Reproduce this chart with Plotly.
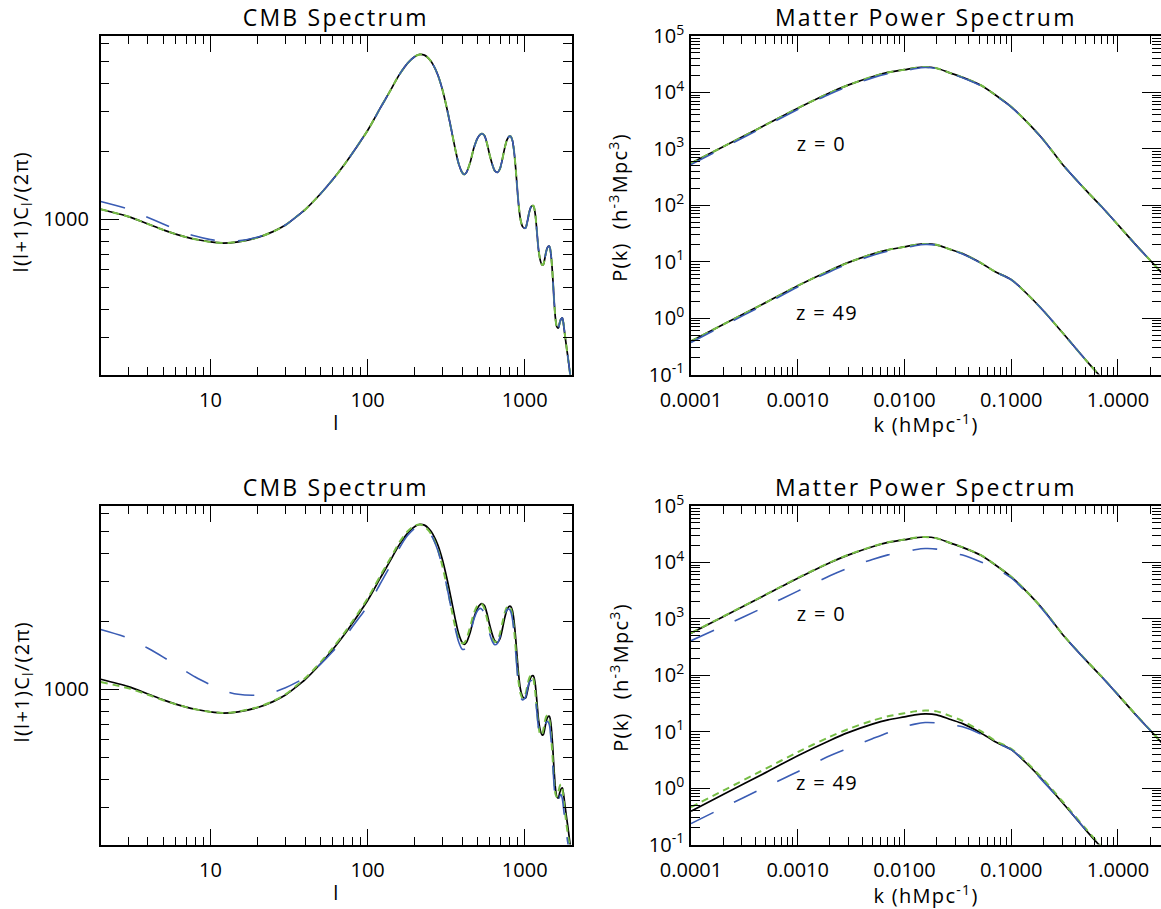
import math
import plotly.graph_objects as go

# ---------------------------------------------------------------
# CMB temperature spectrum  D_l = l(l+1)C_l / (2 pi)
# ---------------------------------------------------------------
ell = [2, 3, 4, 5, 6, 7, 8, 10, 12, 15, 20, 25, 30, 35, 40, 50, 60, 70, 80, 90,
       100, 110, 120, 130, 140, 150, 160, 180, 200, 215, 230, 245, 260, 280, 300,
       320, 340, 360, 380, 400, 412, 425, 450, 475, 500, 520, 537, 555, 575, 600,
       625, 645, 670, 695, 720, 745, 770, 795, 815, 835, 855, 875, 895, 915, 940,
       970, 1000, 1015, 1040, 1070, 1100, 1135, 1165, 1195, 1225, 1260, 1290, 1313,
       1340, 1370, 1400, 1435, 1465, 1500, 1535, 1570, 1600, 1637, 1670, 1700, 1735,
       1760, 1800, 1850, 1900, 1950, 2000]

# reference model (solid black, both rows)
cmb_ref = [1110, 1030, 955, 900, 862, 836, 818, 796, 787, 797, 833, 884, 945, 1025, 1105,
           1295, 1500, 1720, 1960, 2210, 2470, 2770, 3090, 3400, 3720, 4060, 4380, 4900,
           5240, 5350, 5310, 5130, 4850, 4340, 3720, 3080, 2520, 2070, 1760, 1610, 1580,
           1610, 1790, 2070, 2280, 2370, 2390, 2340, 2170, 1910, 1730, 1640, 1612, 1670,
           1840, 2060, 2240, 2325, 2325, 2230, 2010, 1700, 1390, 1160, 1000, 930, 915, 920,
           980, 1080, 1140, 1150, 1065, 890, 735, 655, 630, 632, 668, 722, 755, 762, 715,
           590, 450, 365, 337, 332, 350, 363, 368, 352, 312, 270, 236, 205, 180]

# upper row: comparison runs
cmb_top_blue = [1200, 1112, 1020, 955, 905, 870, 845, 815, 802, 805, 837, 886, 946, 1025, 1105,
                1295, 1500, 1720, 1960, 2210, 2470, 2770, 3090, 3400, 3720, 4060, 4380, 4900,
                5240, 5350, 5310, 5130, 4850, 4340, 3720, 3080, 2520, 2070, 1760, 1610, 1580,
                1610, 1790, 2070, 2280, 2370, 2390, 2340, 2170, 1910, 1730, 1640, 1612, 1670,
                1840, 2060, 2240, 2325, 2325, 2230, 2010, 1700, 1390, 1160, 1000, 930, 915, 920,
                980, 1080, 1140, 1150, 1065, 890, 735, 655, 630, 632, 668, 722, 755, 762, 715,
                590, 450, 365, 337, 332, 350, 363, 368, 352, 312, 270, 236, 205, 180]
cmb_top_green = [1110, 1030, 955, 900, 862, 836, 818, 796, 787, 797, 833, 884, 945, 1025, 1105,
                 1295, 1500, 1720, 1960, 2210, 2470, 2770, 3090, 3400, 3720, 4060, 4380, 4900,
                 5240, 5350, 5310, 5130, 4850, 4340, 3720, 3080, 2520, 2070, 1760, 1610, 1580,
                 1610, 1790, 2070, 2280, 2370, 2390, 2340, 2170, 1910, 1730, 1640, 1612, 1670,
                 1840, 2060, 2240, 2325, 2325, 2230, 2010, 1700, 1390, 1160, 1000, 930, 915, 920,
                 980, 1080, 1140, 1150, 1065, 890, 735, 655, 630, 632, 668, 722, 755, 762, 715,
                 590, 450, 365, 337, 332, 350, 363, 368, 352, 312, 270, 236, 205, 180]

# lower row: comparison runs
cmb_bot_blue = [1840, 1685, 1520, 1390, 1285, 1200, 1135, 1048, 990, 952, 945, 972, 1018, 1072,
                1130, 1290, 1470, 1670, 1890, 2110, 2330, 2610, 2920, 3220, 3530, 3880, 4230,
                4790, 5150, 5280, 5210, 4990, 4660, 4100, 3450, 2830, 2290, 1880, 1620, 1505,
                1505, 1555, 1760, 2040, 2225, 2280, 2250, 2140, 1960, 1750, 1620, 1575, 1595,
                1700, 1890, 2110, 2245, 2265, 2205, 2050, 1790, 1480, 1210, 1020, 925, 900, 912,
                930, 1000, 1075, 1095, 1058, 950, 795, 675, 622, 618, 635, 678, 714, 722, 698,
                620, 495, 385, 322, 307, 318, 338, 344, 330, 306, 266, 228, 201, 180, 165]
cmb_bot_green = [1078, 1012, 948, 897, 861, 836, 818, 796, 788, 799, 836, 888, 952, 1035, 1120,
                 1315, 1525, 1750, 1995, 2250, 2520, 2830, 3160, 3480, 3800, 4150, 4480, 4990,
                 5290, 5350, 5250, 5020, 4700, 4140, 3480, 2840, 2310, 1910, 1680, 1600, 1605,
                 1665, 1890, 2170, 2340, 2390, 2370, 2270, 2060, 1820, 1670, 1620, 1640, 1760,
                 1960, 2170, 2300, 2330, 2280, 2120, 1850, 1530, 1260, 1075, 960, 915, 935, 962,
                 1040, 1125, 1160, 1115, 985, 815, 688, 630, 636, 662, 716, 760, 770, 738, 650,
                 520, 402, 346, 336, 352, 374, 381, 366, 338, 292, 250, 220, 195, 175]

# ---------------------------------------------------------------
# Matter power spectrum P(k) at z = 0 and z = 49
# ---------------------------------------------------------------
k = [1e-4, 2e-4, 5e-4, 1e-3, 2e-3, 3e-3, 5e-3, 7e-3, 0.01, 0.0125, 0.0156, 0.02, 0.027,
     0.035, 0.052, 0.07, 0.1, 0.135, 0.2, 0.3, 0.5, 0.7, 1.0, 1.5, 2.0, 2.6]

pk_z0_ref = [555, 1090, 2660, 5250, 9900, 13600, 19000, 22600, 25300, 27200, 28200, 26800,
             22000, 18500, 13400, 9200, 5550, 3230, 1450, 540, 185, 95, 45, 19, 10.6, 6.2]
pk_z49_ref = [0.39, 0.77, 1.88, 3.75, 7.0, 9.7, 13.6, 16.2, 18.3, 19.8, 20.6, 19.9, 16.4,
              13.9, 9.5, 6.7, 4.8, 2.9, 1.35, 0.56, 0.18, 0.088, 0.042, 0.018, 0.0102, 0.006]

pk_z0_top_blue = [527, 1035, 2530, 4990, 9400, 12900, 18100, 21500, 24200, 26300, 27600, 26600,
                  21700, 18200, 13100, 9000, 5500, 3200, 1440, 540, 185, 95, 45, 19, 10.6, 6.2]
pk_z49_top_blue = [0.37, 0.73, 1.78, 3.56, 6.65, 9.2, 12.9, 15.4, 17.5, 19.2, 20.2, 19.6, 16.2,
                   13.7, 9.4, 6.65, 4.78, 2.9, 1.35, 0.56, 0.18, 0.088, 0.042, 0.018, 0.0102, 0.006]
pk_z0_top_green = [555, 1090, 2660, 5250, 9900, 13600, 19000, 22600, 25300, 27200, 28200, 26800,
                   22000, 18500, 13400, 9200, 5550, 3230, 1450, 540, 185, 95, 45, 19, 10.6, 6.2]
pk_z49_top_green = [0.39, 0.77, 1.88, 3.75, 7.0, 9.7, 13.6, 16.2, 18.3, 19.8, 20.6, 19.9, 16.4,
                    13.9, 9.5, 6.7, 4.8, 2.9, 1.35, 0.56, 0.18, 0.088, 0.042, 0.018, 0.0102, 0.006]

pk_z0_bot_blue = [410, 740, 1650, 3100, 5800, 8000, 11300, 13600, 15500, 16800, 17600, 17200,
                  14800, 13500, 10200, 7900, 5300, 3100, 1410, 538, 185, 95, 45, 19, 10.6, 6.2]
pk_z49_bot_blue = [0.235, 0.45, 1.05, 1.95, 3.75, 5.1, 7.5, 9.6, 12.2, 13.6, 14.5, 14.3, 13.2,
                   12.2, 9.0, 6.5, 4.8, 2.9, 1.3, 0.56, 0.18, 0.088, 0.042, 0.018, 0.0102, 0.006]
pk_z0_bot_green = [560, 1100, 2690, 5300, 9990, 13700, 19150, 22750, 25450, 27350, 28300, 26900,
                   22100, 18600, 13450, 9250, 5580, 3250, 1460, 545, 187, 96, 45.5, 19.2, 10.7, 6.25]
pk_z49_bot_green = [0.46, 0.9, 2.2, 4.35, 8.1, 11.2, 15.7, 18.7, 21.2, 22.9, 23.7, 22.9, 18.9,
                    15.5, 10.2, 7.0, 4.95, 3.05, 1.42, 0.59, 0.19, 0.092, 0.044, 0.019, 0.0107, 0.0063]

# labels placed on the P(k) panels
z_label_k = 1e-3
z_label_text = ["z = 0", "z = 49"]
z_label_P = [1e3, 1e0]

# ---------------------------------------------------------------
# styling
# ---------------------------------------------------------------
W, H = 1161, 909
FONT = "Open Sans"
BLACK, BLUE, GREEN = "#000000", "#3a5cb4", "#76bd45"

STYLES = {
    "ref": dict(color=BLACK, width=1.7, dash="solid"),
    "green": dict(color=GREEN, width=2.0, dash="7px,5px"),
    "blue": dict(color=BLUE, width=1.6, dash="25px,23px"),
}


def px_x(a, b):
    return [a / W, b / W]


def px_y(top, bottom):
    return [1 - bottom / H, 1 - top / H]


def minor_vals(e0, e1, lo, hi):
    vals = []
    for e in range(e0, e1 + 1):
        for m in range(2, 10):
            v = m * 10.0 ** e
            if lo <= v <= hi:
                vals.append(v)
    return vals


def font(size):
    return dict(family=FONT, size=size, color="black")


def log_axis(domain, rng, tickvals, ticktext, minors, anchor, major_len, minor_len, standoff):
    return dict(
        type="log", domain=domain, range=rng, anchor=anchor, automargin=False,
        tickmode="array", tickvals=tickvals, ticktext=ticktext,
        ticks="inside", ticklen=major_len, tickwidth=1.3, tickcolor="black",
        minor=dict(tickmode="array", tickvals=minors, ticks="inside",
                   ticklen=minor_len, tickwidth=1.3, tickcolor="black", showgrid=False),
        showline=True, linecolor="black", linewidth=1.5, mirror="allticks",
        showgrid=False, zeroline=False, ticklabelstandoff=standoff,
        tickfont=font(20), fixedrange=True,
    )


fig = go.Figure()


def add_curve(x, y, style, xa, ya):
    s = STYLES[style]
    fig.add_trace(go.Scatter(
        x=x, y=y, mode="lines", xaxis=xa, yaxis=ya, showlegend=False, hoverinfo="skip",
        line=dict(color=s["color"], width=s["width"], dash=s["dash"], shape="spline", smoothing=0.8),
    ))


# CMB panels: reference first, then green, then blue on top
add_curve(ell, cmb_ref, "ref", "x", "y")
add_curve(ell, cmb_top_green, "green", "x", "y")
add_curve(ell, cmb_top_blue, "blue", "x", "y")
add_curve(ell, cmb_ref, "ref", "x3", "y3")
add_curve(ell, cmb_bot_green, "green", "x3", "y3")
add_curve(ell, cmb_bot_blue, "blue", "x3", "y3")

# P(k) panels
for ref, grn, blu, xa, ya in [
    (pk_z0_ref, pk_z0_top_green, pk_z0_top_blue, "x2", "y2"),
    (pk_z49_ref, pk_z49_top_green, pk_z49_top_blue, "x2", "y2"),
    (pk_z0_ref, pk_z0_bot_green, pk_z0_bot_blue, "x4", "y4"),
    (pk_z49_ref, pk_z49_bot_green, pk_z49_bot_blue, "x4", "y4"),
]:
    add_curve(k, ref, "ref", xa, ya)
    add_curve(k, grn, "green", xa, ya)
    add_curve(k, blu, "blue", xa, ya)

# ---------------------------------------------------------------
# axes
# ---------------------------------------------------------------
LEFT_X = px_x(100.7, 572)
RIGHT_X = px_x(691, 1161)
TOP_Y = px_y(36, 374.5)
BOT_Y = px_y(506, 844.5)

cmb_xrange = [0.30103, 3.30103]
cmb_yrange = [2.316, 3.8096]
pk_xrange = [-4, 0.403]
pk_yrange = [-1, 5]

cmb_xticks = [10, 100, 1000]
cmb_xtext = ["10", "100", "1000"]
cmb_yticks = [1000]
cmb_ytext = ["1000"]
pk_xticks = [1e-4, 1e-3, 1e-2, 1e-1, 1]
pk_xtext = ["0.0001", "0.0010", "0.0100", "0.1000", "1.0000"]
pk_yticks = [1e-1, 1, 10, 100, 1e3, 1e4, 1e5]
pk_ytext = ["10<sup>-1</sup>", "10<sup>0</sup>", "10<sup>1</sup>", "10<sup>2</sup>",
            "10<sup>3</sup>", "10<sup>4</sup>", "10<sup>5</sup>"]

cmb_xminor = minor_vals(0, 3, 2, 2000)
cmb_yminor = minor_vals(2, 3, 207, 6450)
pk_xminor = minor_vals(-4, 0, 1e-4, 2.53)
pk_yminor = minor_vals(-1, 4, 0.1, 1e5)

layout_axes = {}
for i, (xd, yd, kind) in enumerate([(LEFT_X, TOP_Y, "cmb"), (RIGHT_X, TOP_Y, "pk"),
                                    (LEFT_X, BOT_Y, "cmb"), (RIGHT_X, BOT_Y, "pk")], start=1):
    sfx = "" if i == 1 else str(i)
    if kind == "cmb":
        xa = log_axis(xd, cmb_xrange, cmb_xticks, cmb_xtext, cmb_xminor, "y" + sfx, 16, 8, 7)
        ya = log_axis(yd, cmb_yrange, cmb_yticks, cmb_ytext, cmb_yminor, "x" + sfx, 19, 9, 6)
    else:
        xa = log_axis(xd, pk_xrange, pk_xticks, pk_xtext, pk_xminor, "y" + sfx, 16, 8, 7)
        ya = log_axis(yd, pk_yrange, pk_yticks, pk_ytext, pk_yminor, "x" + sfx, 19, 9, 1)
    layout_axes["xaxis" + sfx] = xa
    layout_axes["yaxis" + sfx] = ya

# ---------------------------------------------------------------
# titles and axis captions
# ---------------------------------------------------------------
ann = []


def label(text, x_px, y_px, size, angle=0):
    ann.append(dict(text=text, x=x_px / W, y=1 - y_px / H, xref="paper", yref="paper",
                    xanchor="center", yanchor="middle", showarrow=False, textangle=angle,
                    font=font(size)))


for dy in (0, 470):
    label("CMB Spectrum", 336.3, 17 + dy, 23)
    label("Matter Power Spectrum", 926, 17 + dy, 23)
    label("l", 336.3, 422 + dy, 20)
    label("k (hMpc<sup>-1</sup>)", 926, 424 + dy, 20)
    label("l(l+1)C<sub>l</sub>/(2π)", 22, 212 + dy, 20, -90)
    label("P(k)  (h<sup>-3</sup>Mpc<sup>3</sup>)", 619, 208 + dy, 20, -90)

for xa, ya in (("x2", "y2"), ("x4", "y4")):
    for txt, pv in zip(z_label_text, z_label_P):
        ann.append(dict(text=txt, x=math.log10(z_label_k), y=math.log10(pv), xref=xa, yref=ya,
                        xanchor="left", yanchor="bottom", yshift=-10, showarrow=False,
                        font=font(20)))

fig.update_layout(
    template="none",
    width=W, height=H, margin=dict(l=0, r=0, t=0, b=0, autoexpand=False),
    paper_bgcolor="white", plot_bgcolor="white",
    annotations=ann, showlegend=False, **layout_axes,
)

# wider letter spacing for the caption texts
spacing_js = """
document.querySelectorAll('.annotation-text').forEach(function (t) {
    var fs = parseFloat(t.style.fontSize || '0');
    t.style.letterSpacing = fs >= 22 ? '2.2px' : '1.3px';
});
"""

fig.write_html("out.html", post_script=spacing_js)
